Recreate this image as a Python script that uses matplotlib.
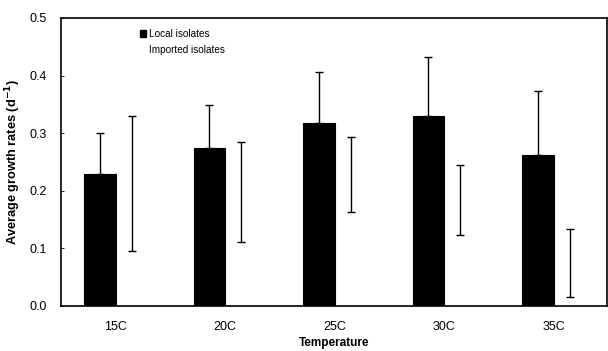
import matplotlib
matplotlib.use("Agg")
import matplotlib.pyplot as plt
import numpy as np
from matplotlib.patches import Patch

plt.rcParams['font.family'] = ['Liberation Sans', 'DejaVu Sans']

categories = ["15C", "20C", "25C", "30C", "35C"]
local_mean = [0.229, 0.274, 0.317, 0.329, 0.262]
local_err = [0.072, 0.075, 0.090, 0.104, 0.112]
imported_mean = [0.213, 0.198, 0.228, 0.184, 0.074]
imported_err = [0.117, 0.087, 0.065, 0.061, 0.059]

fig = plt.figure(figsize=(6.08, 3.51), dpi=100)
ax = fig.add_axes([61/608, 1 - 306/351, (607-61)/608, (306-18)/351])

x = np.arange(len(categories))
w = 0.29
off = 0.145

ax.bar(x - off, local_mean, width=w, color='black', edgecolor='black', linewidth=0.8,
       yerr=[np.zeros(len(local_err)), local_err],
       error_kw=dict(ecolor='black', elinewidth=1.0, capsize=3, capthick=1.0))
ax.bar(x + off, imported_mean, width=w, fill=False, edgecolor='none', linewidth=0,
       yerr=imported_err,
       error_kw=dict(ecolor='black', elinewidth=1.0, capsize=3, capthick=1.0))

ax.set_xlim(-0.5, 4.485)
ax.set_ylim(0, 0.5)
ax.set_yticks(np.arange(0, 0.51, 0.1))
ax.set_yticklabels([f"{v:.1f}" for v in np.arange(0, 0.51, 0.1)], fontsize=9)
ax.set_xticks(x)
ax.set_xticklabels(categories, fontsize=9)
ax.tick_params(axis='x', length=0, pad=11)
ax.tick_params(axis='y', length=2, width=0.6, direction='in', pad=10)
for s in ax.spines.values():
    s.set_linewidth(1.2)

ax.set_xlabel("Temperature", fontsize=8.5, fontweight='bold', labelpad=3)
ax.set_ylabel("Average growth rates (d$^{\\mathbf{-1}}$)", fontsize=9.2, fontweight='bold', labelpad=5)

handles = [Patch(facecolor='black', edgecolor='black', label='Local isolates'),
           Patch(facecolor='white', edgecolor='none', label='Imported isolates')]
leg = ax.legend(handles=handles, loc='upper left', bbox_to_anchor=(0.131, 0.986), frameon=False,
                fontsize=7.2, handlelength=0.6, handleheight=0.6, handletextpad=0.3, labelspacing=0.55,
                borderaxespad=0.3)

fig.savefig("out.png", dpi=100)
